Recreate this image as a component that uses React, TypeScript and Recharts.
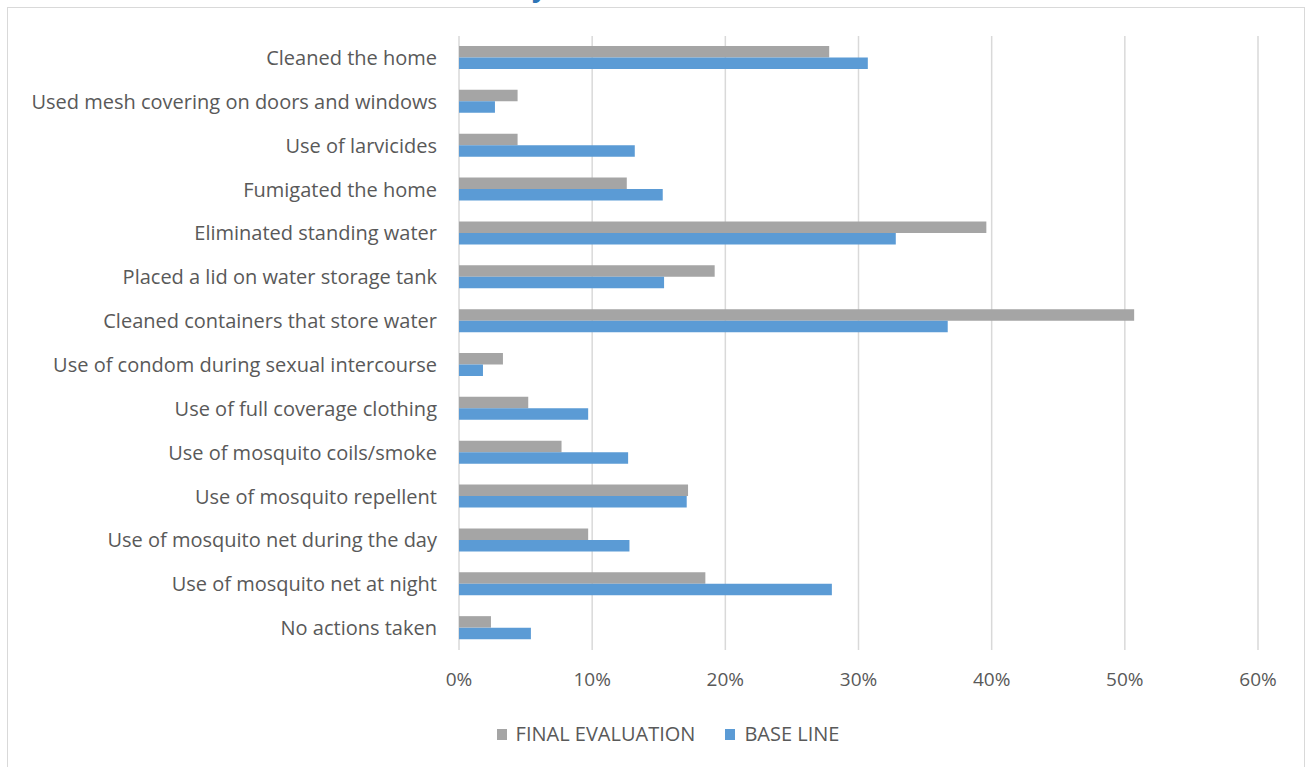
import { Bar, BarChart, CartesianGrid, Legend, XAxis, YAxis } from "recharts";

const categories = [
  "Cleaned the home",
  "Used mesh covering on doors and windows",
  "Use of larvicides",
  "Fumigated the home",
  "Eliminated standing water",
  "Placed a lid on water storage tank",
  "Cleaned containers that store water",
  "Use of condom during sexual intercourse",
  "Use of full coverage clothing",
  "Use of mosquito coils/smoke",
  "Use of mosquito repellent ",
  "Use of mosquito net during the day",
  "Use of mosquito net at night",
  "No actions taken",
];

const finalEvaluation = [
  0.278, 0.044, 0.044, 0.126, 0.396, 0.192, 0.507,
  0.033, 0.052, 0.077, 0.172, 0.097, 0.185, 0.024,
];

const baseLine = [
  0.307, 0.027, 0.132, 0.153, 0.328, 0.154, 0.367,
  0.018, 0.097, 0.127, 0.171, 0.128, 0.280, 0.054,
];

const ticks = [0, 0.1, 0.2, 0.3, 0.4, 0.5, 0.6];

const series = [
  { key: "final", name: "FINAL EVALUATION", color: "#a5a5a5" },
  { key: "base", name: "BASE LINE", color: "#5b9bd5" },
];

const data = categories.map((label, i) => ({
  label,
  final: finalEvaluation[i],
  base: baseLine[i],
}));

const font = "'Open Sans', sans-serif";
const textColor = "#595959";

function LegendRow() {
  return (
    <div style={{ display: "flex", justifyContent: "center", alignItems: "center", gap: 30, fontFamily: font, fontSize: 20, color: textColor, lineHeight: "24px" }}>
      {series.map((s) => (
        <div key={s.key} style={{ display: "flex", alignItems: "center", gap: 9 }}>
          <span style={{ width: 10, height: 11, background: s.color, display: "inline-block" }} />
          <span>{s.name}</span>
        </div>
      ))}
    </div>
  );
}

export default function App() {
  return (
    <div style={{ position: "relative", width: 1312, height: 767, overflow: "hidden", background: "#fff" }}>
      <style>{"body{margin:0}"}</style>
      {/* title cut off at the top of the crop: only the tail of a letter shows */}
      <div style={{ position: "absolute", left: 532, top: -26, fontFamily: font, fontWeight: 700, fontSize: 26, color: "#2e75b6", lineHeight: "26px" }}>
        y
      </div>
      <div style={{ position: "absolute", left: 7, top: 7, width: 1298, height: 800, border: "1.5px solid #d9d9d9", boxSizing: "border-box" }} />
      <div style={{ position: "absolute", left: 0, top: 0 }}>
        <BarChart
          layout="vertical"
          width={1312}
          height={767}
          data={data}
          margin={{ top: 36, right: 54, bottom: 0, left: 0 }}
          barGap={0}
          barSize={11.5}
          style={{ fontFamily: font }}
        >
          <CartesianGrid stroke="#d9d9d9" strokeWidth={1.5} horizontal={false} />
          <XAxis
            type="number"
            domain={[0, 0.6]}
            ticks={ticks}
            tickFormatter={(v: number) => `${Math.round(v * 100)}%`}
            axisLine={false}
            tickLine={false}
            tickSize={0}
            tickMargin={23}
            height={72}
            tick={{ fill: textColor, fontSize: 19 }}
          />
          <YAxis
            type="category"
            dataKey="label"
            width={459}
            interval={0}
            axisLine={false}
            tickLine={false}
            tickSize={0}
            tickMargin={22}
            tick={{ fill: textColor, fontSize: 20 }}
          />
          <Legend
            verticalAlign="bottom"
            height={45}
            wrapperStyle={{ left: 12, width: 1312 }}
            content={() => <LegendRow />}
          />
          {series.map((s) => (
            <Bar key={s.key} dataKey={s.key} name={s.name} fill={s.color} isAnimationActive={false} />
          ))}
        </BarChart>
      </div>
    </div>
  );
}
